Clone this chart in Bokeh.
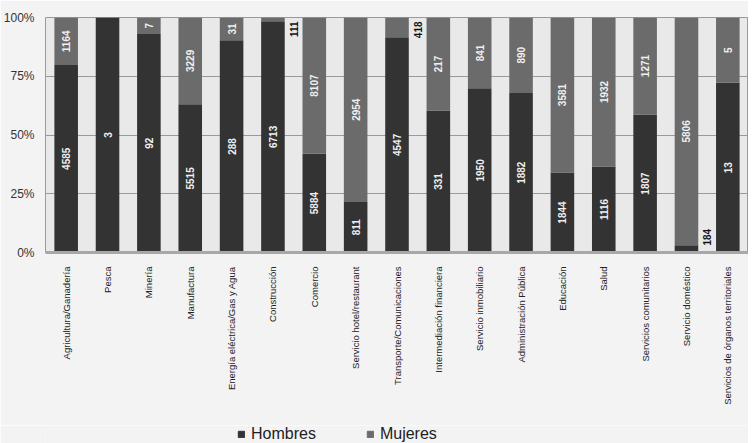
import math
from bokeh.plotting import figure
from bokeh.layouts import column
from bokeh.models import (ColumnDataSource, FactorRange, Range1d, FixedTicker,
                          NumeralTickFormatter, Legend, LegendItem)
from bokeh.core.properties import value
from bokeh.embed import file_html
from bokeh.resources import INLINE

categories = ["Agricultura/Ganadería", "Pesca", "Minería", "Manufactura",
              "Energía eléctrica/Gas y Agua", "Construcción", "Comercio",
              "Servicio hotel/restaurant", "Transporte/Comunicaciones",
              "Intermediación financiera", "Servicio inmobiliario",
              "Administración Pública", "Educación", "Salud",
              "Servicios comunitarios", "Servicio doméstico",
              "Servicios de órganos territoriales"]
hombres = [4585, 3, 92, 5515, 288, 6713, 5884, 811, 4547, 331, 1950, 1882,
           1844, 1116, 1807, 184, 13]
mujeres = [1164, 0, 7, 3229, 31, 111, 8107, 2954, 418, 217, 841, 890,
           3581, 1932, 1271, 5806, 5]
series_names = ["Hombres", "Mujeres"]
y_ticks = [0, 0.25, 0.5, 0.75, 1.0]

FRAME_H = 235
C_H = "#333333"
C_M = "#6b6b6b"
BG = "#f3f3f3"
FONT = "Liberation Sans"

tot = [h + m for h, m in zip(hombres, mujeres)]
fh = [h / t for h, t in zip(hombres, tot)]
fm = [m / t for m, t in zip(mujeres, tot)]

src = ColumnDataSource(dict(cat=categories, h=fh, m=fm))

p = figure(width=748, height=425, x_range=FactorRange(*categories, range_padding=0.0),
           y_range=Range1d(0, 1), output_backend="svg", toolbar_location=None,
           min_border_left=38, min_border_right=0, min_border_top=17,
           min_border_bottom=173)
p.background_fill_color = "#e9e9e9"
p.border_fill_color = BG
p.outline_line_color = "#9a9a9a"

rs = p.vbar_stack(["h", "m"], x="cat", width=0.57, source=src,
                  color=[C_H, C_M], line_color=None)

p.yaxis.ticker = FixedTicker(ticks=y_ticks)
p.yaxis.formatter = NumeralTickFormatter(format="0%")
p.yaxis.major_label_text_font = FONT
p.yaxis.major_label_text_font_size = "12px"
p.yaxis.major_label_text_color = "#333333"
p.yaxis.axis_line_color = None
p.yaxis.major_tick_line_color = None
p.yaxis.minor_tick_line_color = None

p.xaxis.major_label_orientation = math.pi / 2
p.xaxis.major_label_text_font = FONT
p.xaxis.major_label_text_font_size = "9.5px"
p.xaxis.major_label_text_color = "#222222"
p.xaxis.axis_line_color = "#a8a8a8"
p.xaxis.axis_line_width = 3
p.xaxis.major_tick_line_color = None
p.xaxis.minor_tick_line_color = None
p.xaxis.major_label_standoff = 8

p.xgrid.grid_line_color = None
p.ygrid.ticker = FixedTicker(ticks=[0.25, 0.5, 0.75])
p.ygrid.grid_line_color = "#9a9a9a"
p.ygrid.grid_line_width = 1

# data labels
in_x, in_y, in_t = [], [], []
ob_x, ob_y, ob_t = [], [], []   # outside, anchored at bottom (Hombres)
ot_x, ot_y, ot_t = [], [], []   # outside, anchored at top (Mujeres)
for c, h, m, a, b in zip(categories, hombres, mujeres, fh, fm):
    for v, lo, frac, kind in ((h, 0.0, a, "h"), (m, a, b, "m")):
        if v <= 0:
            continue
        txt = str(v)
        if frac * FRAME_H < len(txt) * 6 + 4:
            if kind == "h":
                ob_x.append(c); ob_y.append(lo); ob_t.append(txt)
            else:
                ot_x.append(c); ot_y.append(lo + frac); ot_t.append(txt)
        else:
            in_x.append(c); in_y.append(lo + frac / 2); in_t.append(txt)

p.text(x=in_x, y=in_y, text=in_t, angle=math.pi / 2, text_align="center",
       text_baseline="middle", text_color="#f0f0f0", text_font=value(FONT),
       text_font_size="10px", text_font_style="bold")
p.text(x=ob_x, y=ob_y, text=ob_t, angle=math.pi / 2, text_align="left",
       text_baseline="middle", text_color="#111111", text_font=value(FONT),
       text_font_size="10px", text_font_style="bold", x_offset=21, y_offset=-7)
p.text(x=ot_x, y=ot_y, text=ot_t, angle=math.pi / 2, text_align="right",
       text_baseline="middle", text_color="#111111", text_font=value(FONT),
       text_font_size="10px", text_font_style="bold", x_offset=21, y_offset=4)

# legend strip below the chart (proxy renderers of zero height, out of view)
lg = figure(width=748, height=18, x_range=Range1d(0, 1), y_range=Range1d(0, 1),
            output_backend="svg", toolbar_location=None, min_border=0)
lg.axis.visible = False
lg.grid.visible = False
lg.outline_line_color = None
lg.background_fill_color = BG
lg.border_fill_color = BG
proxy = ColumnDataSource(dict(x=[-5.0], top=[0.0]))
r1 = lg.vbar(x="x", top="top", width=0.1, color=C_H, source=proxy)
r2 = lg.vbar(x="x", top="top", width=0.1, color=C_M, source=proxy)
legend = Legend(items=[LegendItem(label=series_names[0], renderers=[r1]),
                       LegendItem(label=series_names[1], renderers=[r2])],
                location=(192, 0), orientation="horizontal",
                background_fill_alpha=0, border_line_color=None,
                glyph_width=8, glyph_height=8, label_standoff=6, spacing=50,
                padding=0, margin=0, label_height=16,
                label_text_font=FONT, label_text_font_size="16px",
                label_text_color="#222222")
lg.add_layout(legend, "center")

open("out.html", "w").write(file_html(column(p, lg, spacing=0), INLINE))
